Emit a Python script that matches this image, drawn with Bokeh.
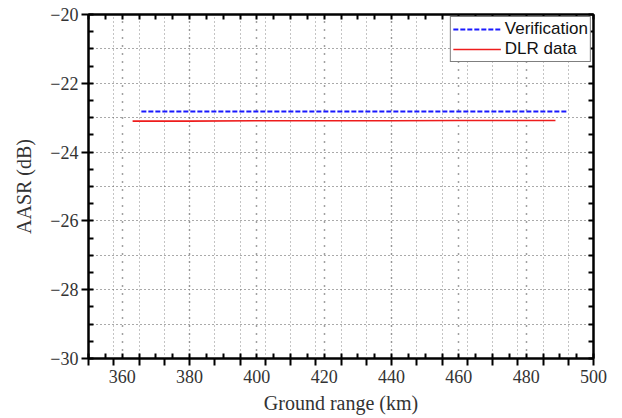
import numpy as np
from bokeh.plotting import figure
from bokeh.models import (FixedTicker, LinearAxis, Legend, LegendItem, Range1d,
                          CustomJSTickFormatter)
from bokeh.embed import file_html
from bokeh.resources import INLINE

# ---------------- data ----------------
ver_range = [365.7, 380, 400, 420, 440, 460, 480, 492.0]
ver_aasr = [-22.82, -22.82, -22.82, -22.82, -22.82, -22.82, -22.82, -22.82]

dlr_range = [363.1, 380, 400, 420, 440, 460, 480, 488.7]
dlr_aasr = [-23.10, -23.10, -23.09, -23.09, -23.09, -23.08, -23.08, -23.08]

x_label_ticks = [360, 380, 400, 420, 440, 460, 480, 500]
x_tick_labels = ["360", "380", "400", "420", "440", "460", "480", "500"]
y_label_ticks = [-20, -22, -24, -26, -28, -30]
y_tick_labels = ["\u221220", "\u221222", "\u221224", "\u221226", "\u221228", "\u221230"]

x_inner_ticks = [350 + 5 * i for i in range(31)]          # every 5 km
x_outer_ticks = [350 + 7.5 * i for i in range(21)]        # every 7.5 km
y_inner_ticks = [-30 + 0.5 * i for i in range(21)]        # every 0.5 dB
y_grid_ticks = [-29, -28, -27, -26, -25, -24, -23, -22, -21]

SERIF = "Liberation Serif"
SANS = "Liberation Sans"
TXT = "#333333"

p = figure(width=615, height=416, output_backend="svg", toolbar_location=None,
           x_range=Range1d(350, 500), y_range=Range1d(-30, -20),
           min_border_left=88, min_border_right=22, min_border_top=14,
           min_border_bottom=57)

p.outline_line_color = "black"
p.outline_line_width = 2
p.background_fill_color = "white"
p.border_fill_color = "white"

# bottom axis
xa = p.xaxis[0]
xa.ticker = FixedTicker(ticks=x_inner_ticks, minor_ticks=x_outer_ticks)
ov = {t: "" for t in x_inner_ticks}
ov.update({t: s for t, s in zip(x_label_ticks, x_tick_labels)})
xa.major_label_overrides = ov
xa.major_tick_in = 5
xa.major_tick_out = 0
xa.minor_tick_in = 0
xa.minor_tick_out = 7
xa.major_tick_line_width = 2
xa.minor_tick_line_width = 2
xa.axis_line_width = 2
xa.major_label_text_font = SERIF
xa.major_label_text_font_size = "18px"
xa.major_label_text_color = TXT
xa.major_label_standoff = 4
xa.axis_label = "Ground range (km)"
xa.axis_label_text_font = SERIF
xa.axis_label_text_font_size = "20px"
xa.axis_label_text_font_style = "normal"
xa.axis_label_text_color = TXT
xa.axis_label_standoff = 6

# left axis
ya = p.yaxis[0]
ya.ticker = FixedTicker(ticks=y_inner_ticks, minor_ticks=y_label_ticks)
ovy = {t: "" for t in y_inner_ticks}
ovy.update({t: s for t, s in zip(y_label_ticks, y_tick_labels)})
ya.major_label_overrides = ovy
ya.major_tick_in = 5
ya.major_tick_out = 0
ya.minor_tick_in = 0
ya.minor_tick_out = 7
ya.major_tick_line_width = 2
ya.minor_tick_line_width = 2
ya.axis_line_width = 2
ya.major_label_text_font = SERIF
ya.major_label_text_font_size = "18px"
ya.major_label_text_color = TXT
ya.major_label_standoff = 3
ya.axis_label = "AASR (dB)"
ya.axis_label_text_font = SERIF
ya.axis_label_text_font_size = "20px"
ya.axis_label_text_font_style = "normal"
ya.axis_label_text_color = TXT
ya.axis_label_standoff = 12

blank = CustomJSTickFormatter(code="return '';")

top = LinearAxis(ticker=FixedTicker(ticks=x_inner_ticks), formatter=blank,
                 major_tick_in=5, major_tick_out=0, minor_tick_in=0, minor_tick_out=0,
                 major_tick_line_width=2, axis_line_width=2, major_label_standoff=0)
p.add_layout(top, "above")
right = LinearAxis(ticker=FixedTicker(ticks=y_inner_ticks), formatter=blank,
                   major_tick_in=5, major_tick_out=0, minor_tick_in=0, minor_tick_out=0,
                   major_tick_line_width=2, axis_line_width=2, major_label_standoff=0)
p.add_layout(right, "right")

# grids
p.xgrid.ticker = FixedTicker(ticks=x_outer_ticks, minor_ticks=x_label_ticks)
p.xgrid.grid_line_color = "#888888"
p.xgrid.grid_line_dash = "1 3"
p.xgrid.grid_line_width = 1
p.xgrid.minor_grid_line_color = "#444444"
p.xgrid.minor_grid_line_dash = "1 7"
p.xgrid.minor_grid_line_width = 1.5

p.ygrid.ticker = FixedTicker(ticks=y_grid_ticks)
p.ygrid.grid_line_color = "#555555"
p.ygrid.grid_line_dash = "1 3"
p.ygrid.grid_line_width = 1

# data
r1 = p.line(ver_range, ver_aasr, line_color="#1a1aff", line_width=2, line_dash="5 2")
r2 = p.line(dlr_range, dlr_aasr, line_color="#ee1c1c", line_width=1.6)

leg = Legend(items=[LegendItem(label="Verification", renderers=[r1]),
                    LegendItem(label="DLR data", renderers=[r2])],
             location="top_right")
leg.margin = 2
leg.padding = 2
leg.spacing = 0
leg.glyph_width = 48
leg.glyph_height = 20
leg.label_height = 20
leg.label_standoff = 4
leg.label_text_font = SANS
leg.label_text_font_size = "17px"
leg.label_text_color = "#111111"
leg.border_line_color = "black"
leg.border_line_width = 1
leg.background_fill_alpha = 1
p.add_layout(leg)

open("out.html", "w").write(file_html(p, INLINE))
